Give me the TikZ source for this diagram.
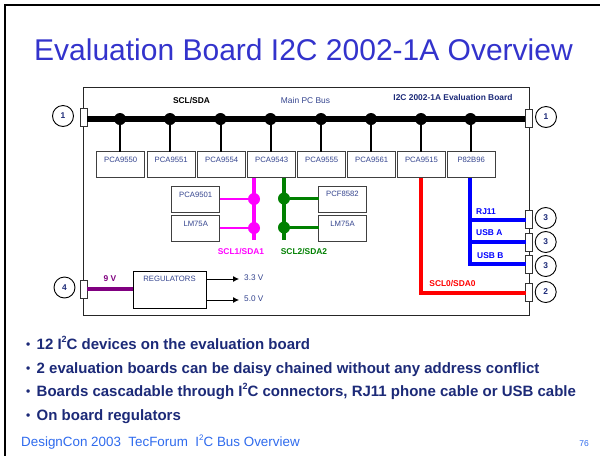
\documentclass[tikz,border=0pt]{standalone}
\usepackage{fontspec}
\setmainfont{Liberation Sans}
\usetikzlibrary{arrows.meta}
\definecolor{titleblue}{HTML}{3333CC}
\definecolor{navy}{HTML}{1C2A78}
\definecolor{chipblue}{HTML}{35458F}
\definecolor{footblue}{HTML}{2F6BEE}
\definecolor{mygreen}{HTML}{008000}
\definecolor{mypurple}{HTML}{800080}
\definecolor{mymagenta}{HTML}{FF00FF}
\definecolor{myred}{HTML}{FF0000}
\definecolor{myblue}{HTML}{0000FF}
\tikzset{
  chip/.style={draw=black!75,line width=1pt,fill=white,minimum width=48pt,minimum height=26pt,inner sep=0pt,outer sep=0pt,anchor=center},
  chiptext/.style={font=\fontsize{7.7}{8}\selectfont,text=chipblue,inner sep=0pt},
  conn/.style={draw=black!80,line width=0.7pt,fill=white,minimum width=7pt,minimum height=18pt,inner sep=0pt,outer sep=0pt},
  port/.style={draw=black,line width=0.9pt,circle,minimum size=21pt,inner sep=0pt,font=\fontsize{8.4}{9}\selectfont\bfseries,text=navy,fill=white},
  dot/.style={circle,minimum size=12pt,inner sep=0pt,outer sep=0pt},
  lbl/.style={font=\fontsize{8.4}{9}\selectfont\bfseries,inner sep=0pt},
  bullet/.style={font=\fontsize{15}{16}\selectfont\bfseries,text=navy,inner sep=0pt,anchor=base west},
  footer/.style={font=\fontsize{13.4}{14}\selectfont,text=footblue,inner sep=0pt,anchor=base west},
}
\newcommand{\blt}{\makebox[10.5pt][l]{\fontsize{12}{12}\selectfont\raisebox{0.6pt}{\textbullet}}}
\newcommand{\sq}{\raisebox{0.42em}{\fontsize{9}{9}\selectfont 2}}
\begin{document}
\begin{tikzpicture}[x=1pt,y=-1pt]
\useasboundingbox (0,0) rectangle (600,456);
\fill[white] (0,0) rectangle (600,456);
\draw[line width=2pt] (600,5) -- (5,5) -- (5,456);
\node[font=\fontsize{30}{32}\selectfont,text=titleblue,inner sep=0pt,anchor=base] (title) at (303.5,60.5) {Evaluation Board I2C 2002-1A Overview};
% board
\node[draw=black!85,line width=0.8pt,minimum width=446pt,minimum height=228pt,inner sep=0pt,anchor=north west] (board) at (83,87) {};
% chips top row
\foreach \n/\x/\t in {a/120.7/PCA9550,b/171.2/PCA9551,c/221.7/PCA9554,d/271.7/PCA9543,e/321.7/PCA9555,f/371.7/PCA9561,g/421.5/PCA9515,h/471.2/P82B96}{
  \node[chip] (chip\n) at (\x,164.8) {};
  \node[chiptext] at (\x,159.5) {\t};
}
% bus dots
\foreach \n/\x in {a/120,b/170,c/220.5,d/270.5,e/321,f/371,g/421,h/470.5}{
  \node[dot,fill=black] (bd\n) at (\x,119) {};
  \draw[line width=2pt] (bd\n.center) -- (bd\n.center |- chip\n.north);
}
% connectors
\node[conn] (cl1) at (83.5,117.5) {};
\node[conn] (cr1) at (528.5,118) {};
\node[conn] (cl4) at (83.5,289.5) {};
\node[conn,minimum height=18.5pt] (rj) at (529,219.5) {};
\node[conn] (usba) at (529,242) {};
\node[conn] (usbb) at (529,264) {};
\node[conn] (c2) at (529,292) {};
% ports
\node[port] (pl1) at (63,116) {1};
\node[port] (pr1) at (546,117) {1};
\node[port] (pl4) at (64.5,287.5) {4};
\node[port] (p3a) at (545.7,218) {3};
\node[port] (p3b) at (545.7,242) {3};
\node[port] (p3c) at (545.7,266) {3};
\node[port] (p2) at (545.7,292) {2};
\draw[line width=6pt] (cl1.east |- bda.center) -- (cr1.west |- bdh.center);
\node[lbl,text=black] (sclsda) at (191.5,101) {SCL/SDA};
\node[font=\fontsize{8.4}{9}\selectfont,text=chipblue,inner sep=0pt] (mainbus) at (305.5,100.5) {Main PC Bus};
\node[lbl,text=navy] (evalb) at (453,97.5) {I2C 2002-1A Evaluation Board};
% secondary chips
\node[chip] (p9501) at (195.7,199.5) {};
\node[chiptext] at (195.7,194.5) {PCA9501};
\node[chip] (lml) at (195.7,228.7) {};
\node[chiptext] at (195.7,223.5) {LM75A};
\node[chip] (pcf) at (342.5,199) {};
\node[chiptext] at (342.5,194) {PCF8582};
\node[chip] (lmr) at (342.5,228.5) {};
\node[chiptext] at (342.5,223.5) {LM75A};
% magenta
\coordinate (mtop) at (254,177.5);
\coordinate (mbot) at (254,240);
\node[dot,fill=mymagenta] (m1) at (254,199) {};
\node[dot,fill=mymagenta] (m2) at (254,228) {};
\draw[mymagenta,line width=3.8pt] (mtop) -- (mbot);
\draw[mymagenta,line width=2.2pt] (p9501.east |- m1) -- (m1);
\draw[mymagenta,line width=2.2pt] (lml.east |- m2) -- (m2);
\node[lbl,text=mymagenta] (scl1) at (241,252) {SCL1/SDA1};
% green
\coordinate (gtop) at (284,177.5);
\coordinate (gbot) at (284,240);
\node[dot,fill=mygreen] (g1) at (284,198.5) {};
\node[dot,fill=mygreen] (g2) at (284,227.5) {};
\draw[mygreen,line width=3.8pt] (gtop) -- (gbot);
\draw[mygreen,line width=2.2pt] (g1) -- (pcf.west |- g1);
\draw[mygreen,line width=2.2pt] (g2) -- (lmr.west |- g2);
\node[lbl,text=mygreen] (scl2) at (304,252) {SCL2/SDA2};
% red
\draw[myred,line width=3.8pt] (chipg.south -| 421,0) -- (421,293) -- (c2.west |- 0,293);
\node[lbl,text=myred] (scl0) at (452.5,284) {SCL0/SDA0};
% blue
\draw[myblue,line width=3.8pt] (chiph.south -| 470,0) -- (470,264) -- (usbb.west |- 0,264);
\draw[myblue,line width=3.8pt] (470,220) -- (rj.west |- 0,220);
\draw[myblue,line width=3.8pt] (470,242) -- (usba.west |- 0,242);
\node[lbl,text=myblue,anchor=west] (lrj) at (476,212) {RJ11};
\node[lbl,text=myblue,anchor=west] (lua) at (476,233) {USB A};
\node[lbl,text=myblue,anchor=west] (lub) at (477,256) {USB B};
% regulators
\node[draw=black,line width=0.8pt,minimum width=73pt,minimum height=37pt,inner sep=0pt,anchor=north west] (reg) at (133,271) {};
\node[chiptext] (regt) at (169.5,279.3) {REGULATORS};
\draw[mypurple,line width=3.8pt] (cl4.east |- 0,289) -- (reg.west |- 0,289);
\node[lbl,text=mypurple] (nine) at (110,279) {9 V};
\node[font=\fontsize{8.2}{9}\selectfont,text=chipblue,anchor=west,inner sep=0pt] (v33) at (244,277.3) {3.3 V};
\node[font=\fontsize{8.2}{9}\selectfont,text=chipblue,anchor=west,inner sep=0pt] (v50) at (244,298.3) {5.0 V};
\draw[line width=0.8pt,-{Latex[length=6pt,width=6pt]}] (reg.east |- 0,279) -- (239,279);
\draw[line width=0.8pt,-{Latex[length=6pt,width=6pt]}] (reg.east |- 0,300) -- (239,300);
% bullets
\node[bullet] (b1) at (26,349) {\blt 12 I\sq C devices on the evaluation board};
\node[bullet] (b2) at (26,373) {\blt 2 evaluation boards can be daisy chained without any address conflict};
\node[bullet] (b3) at (26,396) {\blt Boards cascadable through I\sq C connectors, RJ11 phone cable or USB cable};
\node[bullet] (b4) at (26,420) {\blt On board regulators};
\node[footer] (foot) at (21,446) {DesignCon 2003\ \ TecForum\ \ I\raisebox{0.4em}{\fontsize{8}{8}\selectfont 2}C Bus Overview};
\node[font=\fontsize{8.5}{9}\selectfont,text=footblue,inner sep=0pt] (pg) at (584,444) {76};
\end{tikzpicture}
\end{document}
